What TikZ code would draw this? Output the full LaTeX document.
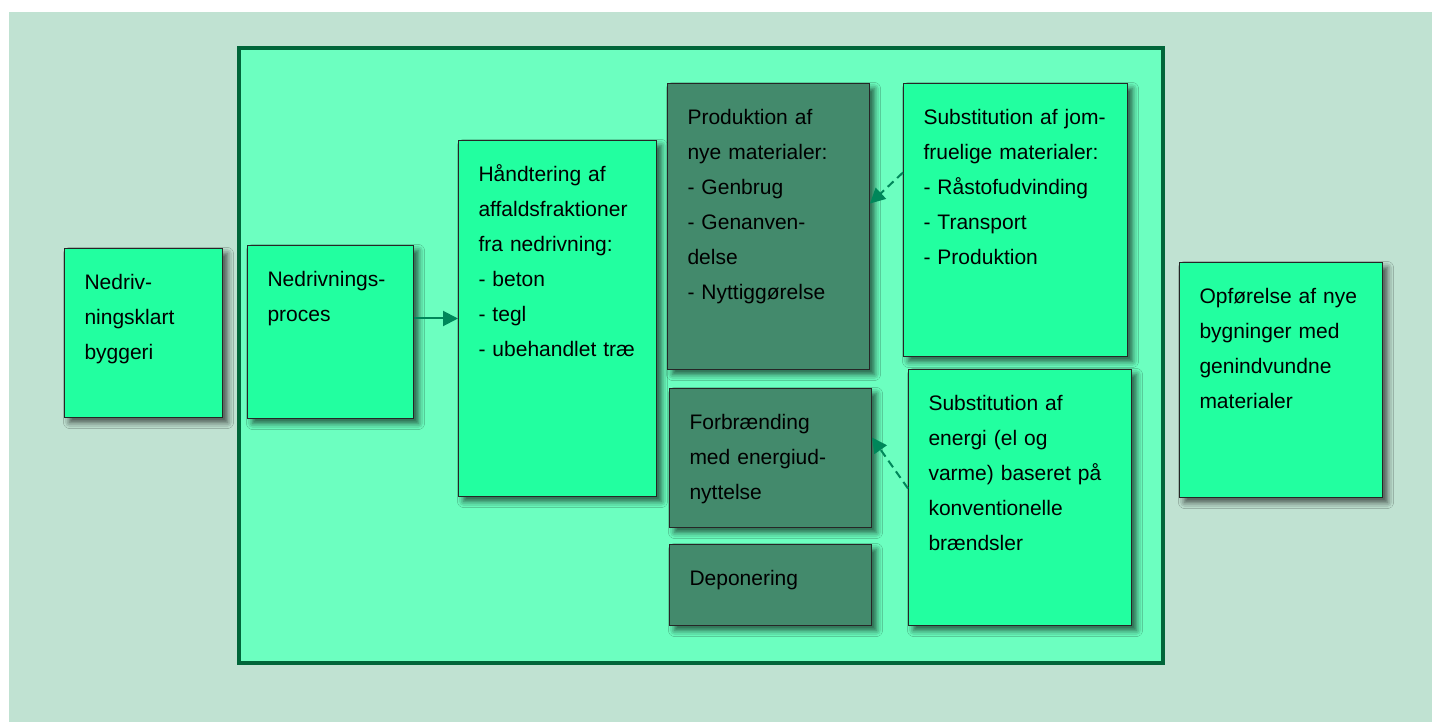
\documentclass[tikz,border=0pt]{standalone}
\usepackage{fontspec}
\setmainfont{Liberation Sans}
\usetikzlibrary{arrows.meta,shadows.blur}
\definecolor{paperbg}{HTML}{C0E2D2}
\definecolor{framegreen}{HTML}{00663A}
\definecolor{panelgreen}{HTML}{6CFFC0}
\definecolor{boxgreen}{HTML}{22FFA0}
\definecolor{darkfill}{HTML}{438A6C}
\definecolor{arrowgreen}{HTML}{00875A}

\begin{document}
\begin{tikzpicture}[
  x=0.5pt, y=-0.5pt,
  font=\fontsize{10.5}{17.5}\selectfont,
  frame/.style={draw=framegreen, line width=2.2pt, fill=panelgreen,
    anchor=north west, inner sep=0pt},
  box/.style={draw=black!85, line width=0.5pt, anchor=north west, align=left,
    inner xsep=10pt, inner ysep=0pt, text height=20.5pt,
    blur shadow={shadow xshift=2.5pt, shadow yshift=-2.5pt,
      shadow blur radius=3pt, shadow opacity=65}},
  lightbox/.style={box, fill=boxgreen},
  darkbox/.style={box, fill=darkfill},
  arrow/.style={-{Triangle[length=7.5pt,width=7.5pt]}, line width=1pt, draw=arrowgreen},
  dasharrow/.style={arrow, dash pattern=on 4pt off 2.5pt}
]
\useasboundingbox (0,0) rectangle (1432,722);
\fill[paperbg] (9,12) rectangle (1432,722);

\node[frame, minimum width=461.75pt, minimum height=307.5pt] (panel) at (237,46) {};

\node[lightbox, text width=59pt, text depth=64pt] (ready) at (64,248)
  {Nedriv-\\ningsklart\\byggeri};
\node[lightbox, text width=63pt, text depth=66pt] (process) at (247,245)
  {Nedrivnings-\\proces};
\node[lightbox, text width=79pt, text depth=157.5pt] (sorting) at (458,140)
  {Håndtering af\\affaldsfraktioner\\fra nedrivning:\\- beton\\- tegl\\- ubehandlet træ};
\node[darkbox, text width=81pt, text depth=122.5pt] (newmat) at (667,83)
  {Produktion af\\nye materialer:\\- Genbrug\\- Genanven-\\delse\\- Nyttiggørelse};
\node[lightbox, text width=92pt, text depth=116pt] (virgin) at (903,83)
  {Substitution af jom-\\fruelige materialer:\\- Råstofudvinding\\- Transport\\- Produktion};
\node[darkbox, text width=81pt, text depth=49pt] (burning) at (669,388)
  {Forbrænding\\med energiud-\\nyttelse};
\node[darkbox, text width=81pt, text depth=20pt] (landfill) at (669,544)
  {Deponering};
\node[lightbox, text width=91.5pt, text depth=107.5pt] (energy) at (908,369)
  {Substitution af\\energi (el og\\varme) baseret på\\konventionelle\\brændsler};
\node[lightbox, text width=81.5pt, text depth=97pt] (newbuild) at (1179,262)
  {Opførelse af nye\\bygninger med\\genindvundne\\materialer};

\draw[arrow] (process.east |- sorting.west) -- (sorting.west);
\draw[dasharrow] ([yshift=23.75pt]virgin.west) -- ([yshift=11.5pt]newmat.east);
\draw[dasharrow] ([yshift=4.5pt]energy.west) -- ([yshift=10.25pt]burning.east);
\end{tikzpicture}
\end{document}
